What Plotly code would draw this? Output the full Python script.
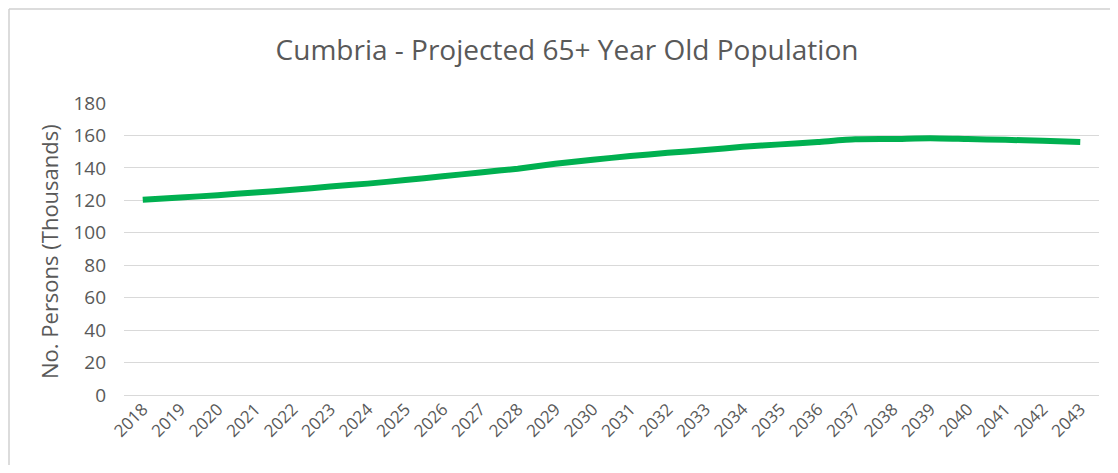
import plotly.graph_objects as go

years = [str(y) for y in range(2018, 2044)]
population = [120.3, 121.7, 123.2, 124.8, 126.5, 128.5, 130.3, 132.5, 134.8, 137.2,
              139.5, 142.5, 145.0, 147.3, 149.3, 151.0, 153.0, 154.5, 156.0, 157.6,
              157.8, 158.3, 157.8, 157.3, 156.7, 156.0]
y_ticks = [0, 20, 40, 60, 80, 100, 120, 140, 160, 180]

title_text = "Cumbria - Projected 65+ Year Old Population"
y_title = "No. Persons (Thousands)"

OFF = 8  # page body margin offset
# figure sized so the page (with its 8px body margin) does not overflow the window
W, H = 1118 - 2 * OFF, 473 - 2 * OFF
# target page pixel positions of plot area
PX0, PX1, PY0, PY1 = 124, 1099, 103, 395
L, T = PX0 - OFF, PY0 - OFF
R, B = W - (PX1 - OFF), H - (PY1 - OFF)
pw, ph = W - L - R, H - T - B

fig = go.Figure()
fig.add_trace(go.Scatter(
    x=years, y=population, mode="lines",
    line=dict(color="#00B050", width=6, shape="spline", smoothing=0.6),
    hoverinfo="x+y", showlegend=False,
))

font_family = "Open Sans, Liberation Sans, sans-serif"
grey = "#595959"

fig.update_layout(
    width=W, height=H,
    margin=dict(l=L, r=R, t=T, b=B, autoexpand=False),
    paper_bgcolor="white", plot_bgcolor="white",
    title=dict(text=title_text, x=(567 - OFF) / W, xanchor="center", xref="container",
               y=1 - (50 - OFF) / H, yanchor="middle", yref="container",
               font=dict(family=font_family, size=28, color=grey)),
    font=dict(family=font_family, color=grey),
    xaxis=dict(
        type="category", range=[-0.5, len(years) - 0.5], tickangle=-45,
        showgrid=False, showline=False, automargin=False,
        ticks="", tickfont=dict(size=17, color=grey), fixedrange=True,
    ),
    yaxis=dict(
        range=[0, 180], tickvals=y_ticks, showgrid=True, gridcolor="#D9D9D9",
        gridwidth=1, zeroline=True, zerolinecolor="#D9D9D9", zerolinewidth=1,
        ticks="", ticklen=0, tickfont=dict(size=19, color=grey),
        ticklabelstandoff=17, automargin=False, fixedrange=True,
    ),
)

# y-axis title placed as annotation
fig.add_annotation(text=y_title, textangle=-90, showarrow=False,
                   xref="paper", yref="paper",
                   x=(49 - PX0) / pw, y=(PY1 - 252) / ph,
                   xanchor="center", yanchor="middle",
                   font=dict(family=font_family, size=22, color=grey))

# chart area border: only top and left edges fall inside the window
bx = (OFF + 1 - PX0) / pw
by = 1 + (PY0 - OFF - 1) / ph
fig.add_shape(type="line", xref="paper", yref="paper",
              x0=bx, x1=1 + R / pw, y0=by, y1=by,
              line=dict(color="#D0D0D0", width=1.5), layer="below")
fig.add_shape(type="line", xref="paper", yref="paper",
              x0=bx, x1=bx, y0=by, y1=-B / ph,
              line=dict(color="#D0D0D0", width=1.5), layer="below")

fig.write_html("out.html")
